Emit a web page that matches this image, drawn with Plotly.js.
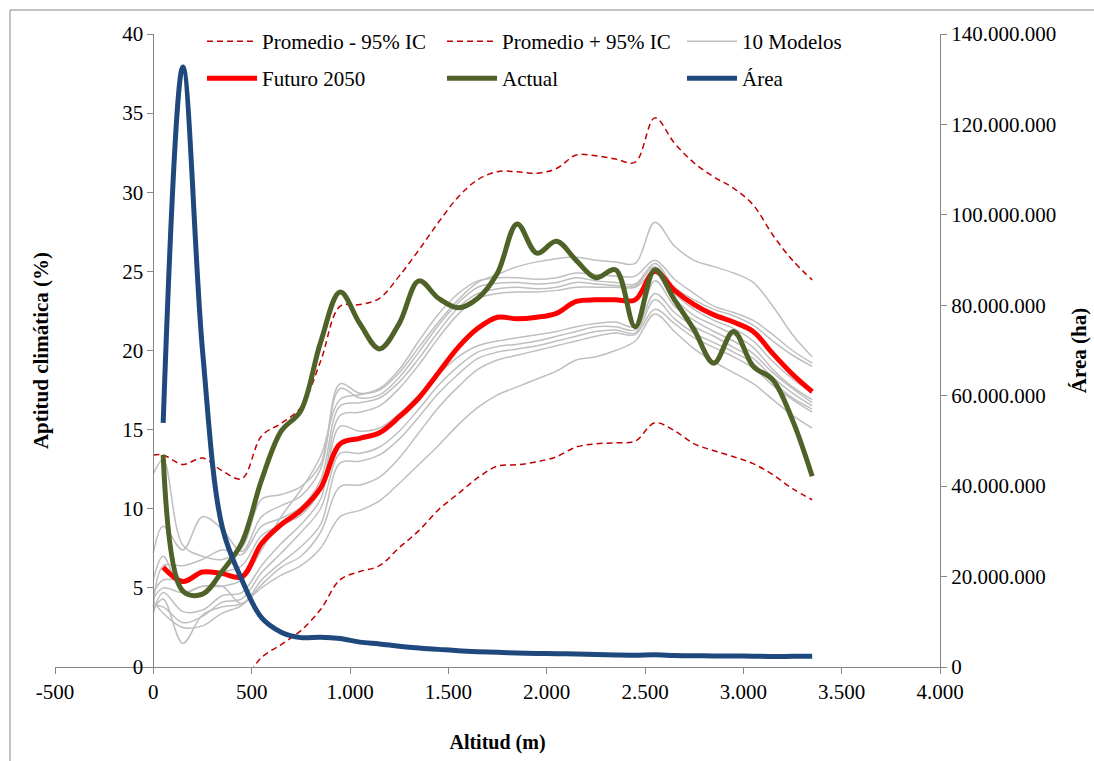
<!DOCTYPE html>
<html>
<head>
<meta charset="utf-8">
<script src="https://cdn.plot.ly/plotly-3.0.1.min.js"></script>
<style>
html,body{margin:0;padding:0;background:#fff;}
#chart{width:1094px;height:761px;}
</style>
</head>
<body>
<div id="chart"></div>
<script>
// ---- Data ----
const altitud = [50,150,250,350,450,550,650,750,850,950,1050,1150,1250,1350,1450,1550,1650,1750,1850,1950,2050,2150,2250,2350,2450,2550,2650,2750,2850,2950,3050,3150,3250,3350];
const altitudModelos = [0,50,150,250,350,450,550,650,750,850,950,1050,1150,1250,1350,1450,1550,1650,1750,1850,1950,2050,2150,2250,2350,2450,2550,2650,2750,2850,2950,3050,3150,3250,3350];

const futuro2050 = [6.3,5.4,6.0,5.9,5.7,7.8,9.0,9.9,11.3,14.1,14.45,14.8,15.8,17.0,18.6,20.2,21.4,22.1,22.0,22.1,22.35,23.1,23.2,23.2,23.2,25.0,23.8,22.9,22.25,21.8,21.2,19.8,18.5,17.4];
const actual = [13.4,4.8,4.6,6.05,7.85,11.8,14.9,16.2,20.5,23.7,21.7,20.1,21.7,24.4,23.3,22.7,23.3,24.9,28.0,26.15,26.9,25.7,24.6,25.1,21.5,25.1,23.2,21.3,19.2,21.2,19.0,18.15,15.6,12.05];
const areaHa = [54000000,132700000,70000000,31000000,19300000,10900000,7700000,6500000,6600000,6300000,5500000,5100000,4600000,4200000,3900000,3600000,3400000,3250000,3100000,3000000,2950000,2850000,2750000,2650000,2600000,2700000,2550000,2500000,2450000,2450000,2400000,2300000,2350000,2400000];

const promedioMenos = [-2.5,-2.5,-2.5,-2.5,-2.0,-1.0,0.6,1.42,2.3,3.63,5.52,6.03,6.4,7.54,8.62,9.94,10.95,11.96,12.7,12.78,12.97,13.29,13.9,14.1,14.17,14.27,15.43,14.93,14.1,13.67,13.29,12.85,12.15,11.27,10.57];
const promedioMas = [13.4,13.4,12.8,13.2,12.4,11.9,14.6,15.4,16.4,19.3,22.8,22.9,23.3,24.7,26.35,28.1,29.7,30.8,31.3,31.3,31.2,31.5,32.35,32.3,32.1,31.9,34.7,33.1,31.85,30.97,30.26,29.2,27.3,25.7,24.46];

const modelo1 = [4.3,5.0,4.7,5.1,5.1,5.5,7.4,9.5,11.2,13.3,16.9,17.2,17.5,18.6,20.2,21.8,23.2,24.3,24.8,25.3,25.6,25.8,25.9,25.7,25.6,25.5,28.1,26.6,25.7,25.3,24.9,24.3,22.8,21.0,19.6];
const modelo2 = [12.2,13.1,7.7,7.0,6.8,7.5,10.6,10.9,11.4,12.8,17.9,17.3,17.6,18.8,20.6,22.3,23.6,24.4,24.6,24.6,24.5,24.6,24.9,24.8,24.7,24.7,25.7,24.5,23.6,22.8,22.4,21.9,21.0,20.0,19.2];
const modelo3 = [7.2,8.9,7.4,9.5,8.7,7.3,9.5,10.2,10.8,12.5,17.6,17.0,17.2,18.3,19.9,21.6,23.0,24.0,24.25,24.3,24.2,24.3,24.6,24.4,24.3,24.2,25.5,24.0,23.2,22.6,22.2,21.6,20.6,19.7,19.0];
const modelo4 = [3.8,6.4,6.4,6.8,7.4,7.1,8.9,9.4,10.1,11.8,16.5,16.7,17.0,18.0,19.5,21.2,22.7,23.6,23.9,24.0,23.9,24.0,24.3,24.2,24.1,24.1,25.3,23.6,22.6,21.9,21.4,20.6,19.3,18.2,17.3];
const modelo5 = [4.7,5.5,5.5,6.0,6.0,6.4,8.3,9.0,9.6,11.2,15.9,16.1,16.5,17.6,19.1,20.8,22.3,23.3,23.6,23.7,23.7,23.8,24.0,24.0,24.0,24.0,24.9,23.3,22.2,21.6,21.0,20.2,18.8,17.7,16.9];
const modelo6 = [3.4,4.7,3.5,3.6,4.5,4.7,6.4,7.8,9.0,10.6,15.2,14.9,15.1,16.0,17.2,18.5,19.6,20.3,20.6,20.8,21.0,21.2,21.5,21.7,21.8,21.5,24.4,22.8,21.9,21.2,20.6,19.8,18.6,17.6,16.7];
const modelo7 = [3.9,3.8,2.8,3.2,4.1,4.3,5.95,7.2,8.5,10.0,13.5,13.5,13.9,14.9,16.3,17.8,19.0,19.9,20.25,20.4,20.6,20.9,21.2,21.5,21.5,21.3,23.6,22.4,21.5,20.9,20.2,19.5,18.3,17.3,16.5];
const modelo8 = [5.5,7.0,4.7,5.1,5.1,4.0,5.5,6.6,7.6,9.0,12.9,13.0,13.4,14.4,15.8,17.3,18.5,19.5,19.9,20.1,20.3,20.6,20.9,21.2,21.3,21.1,23.2,22.0,21.1,20.5,19.9,19.2,18.0,17.0,16.3];
const modelo9 = [4.2,3.4,2.5,2.6,3.4,3.9,5.2,6.3,7.0,8.5,11.4,11.5,12.0,13.2,14.8,16.4,17.7,18.8,19.4,19.7,20.0,20.3,20.6,20.9,21.1,21.0,22.6,21.7,20.8,20.2,19.6,18.9,17.8,16.9,16.1];
const modelo10 = [3.6,4.3,1.5,3.3,3.8,4.0,5.0,5.8,6.4,7.5,9.5,9.9,10.5,11.6,12.8,14.0,15.3,16.4,17.2,17.7,18.2,18.7,19.4,19.6,20.0,20.6,22.3,21.2,20.1,19.3,18.6,17.9,16.9,15.9,15.1];
const modelos = [modelo1,modelo2,modelo3,modelo4,modelo5,modelo6,modelo7,modelo8,modelo9,modelo10];

const xTickVals = [-500,0,500,1000,1500,2000,2500,3000,3500,4000];
const xTickText = ['-500','0','500','1.000','1.500','2.000','2.500','3.000','3.500','4.000'];

// ---- Styling ----
const FONT = 'Liberation Serif, serif';
const AXIS = '#868686';
const traces = [];

modelos.forEach(function (m, i) {
  traces.push({
    x: altitudModelos, y: m, type: 'scatter', mode: 'lines',
    name: '10 Modelos', showlegend: i === 0, legendrank: 3, legend: 'legend',
    line: {color: '#bfbfbf', width: 1.5, shape: 'spline'},
    hoverinfo: 'skip'
  });
});
traces.push({
  x: altitudModelos, y: promedioMenos, type: 'scatter', mode: 'lines',
  name: 'Promedio - 95% IC', legendrank: 1, legend: 'legend',
  line: {color: '#c00000', width: 1.5, dash: '6px,4px', shape: 'spline'}
});
traces.push({
  x: altitudModelos, y: promedioMas, type: 'scatter', mode: 'lines',
  name: 'Promedio + 95% IC', legendrank: 2, legend: 'legend',
  line: {color: '#c00000', width: 1.5, dash: '6px,4px', shape: 'spline'}
});
traces.push({
  x: altitud, y: futuro2050, type: 'scatter', mode: 'lines',
  name: 'Futuro 2050', legendrank: 1, legend: 'legend2',
  line: {color: '#ff0000', width: 5, shape: 'spline'}
});
traces.push({
  x: altitud, y: actual, type: 'scatter', mode: 'lines',
  name: 'Actual', legendrank: 2, legend: 'legend2',
  line: {color: '#4f6228', width: 5, shape: 'spline'}
});
traces.push({
  x: altitud, y: areaHa, type: 'scatter', mode: 'lines', yaxis: 'y2',
  name: 'Área', legendrank: 3, legend: 'legend2',
  line: {color: '#1f497d', width: 5, shape: 'spline'}
});

const W = 1094, H = 761;
const mL = 55, mR = 154, mT = 34, mB = 94;
const pw = W - mL - mR, ph = H - mT - mB;
const px2x = function (p) { return (p - mL) / pw; };
const py2y = function (p) { return 1 - (p - mT) / ph; };

const legendBase = {
  orientation: 'h', xanchor: 'left', yanchor: 'top',
  itemwidth: 50,
  entrywidth: 175, entrywidthmode: 'pixels',
  bgcolor: 'rgba(0,0,0,0)', borderwidth: 0,
  font: {family: FONT, size: 21, color: '#000'},
  traceorder: 'normal'
};

const layout = {
  width: W, height: H,
  margin: {l: mL, r: mR, t: mT, b: mB, autoexpand: false},
  paper_bgcolor: '#fff', plot_bgcolor: 'rgba(0,0,0,0)',
  separators: ',.',
  font: {family: FONT, size: 21, color: '#000'},
  showlegend: true,
  legend: Object.assign({}, legendBase, {x: px2x(202), y: py2y(21)}),
  legend2: Object.assign({}, legendBase, {x: px2x(202), y: py2y(58)}),
  xaxis: {
    range: [-500, 4000], tickvals: xTickVals, ticktext: xTickText,
    showgrid: false, zeroline: false, showline: true, linecolor: AXIS, linewidth: 1,
    ticks: 'outside', ticklen: 6, tickcolor: AXIS,
    tickfont: {family: FONT, size: 21, color: '#000'},
    title: {text: '<b>Altitud (m)</b>', font: {family: FONT, size: 20, color: '#000'}, standoff: 31}
  },
  yaxis: {
    range: [0, 40], dtick: 5, anchor: 'free', position: 500 / 4500,
    showgrid: false, zeroline: false, showline: true, linecolor: AXIS, linewidth: 1,
    ticks: 'outside', ticklen: 6, tickcolor: AXIS,
    tickfont: {family: FONT, size: 21, color: '#000'},
    title: {text: '<b>Aptitud climática (%)</b>', font: {family: FONT, size: 21, color: '#000'}, standoff: 66}
  },
  yaxis2: {
    range: [0, 140000000], dtick: 20000000, tickformat: ',d',
    overlaying: 'y', side: 'right', anchor: 'x',
    showgrid: false, zeroline: false, showline: true, linecolor: AXIS, linewidth: 1,
    ticks: 'outside', ticklen: 6, tickcolor: AXIS,
    tickfont: {family: FONT, size: 21, color: '#000'},
    title: {text: '<b>Área (ha)</b>', font: {family: FONT, size: 21, color: '#000'}, standoff: 16}
  },
  shapes: [{
    type: 'rect', xref: 'paper', yref: 'paper',
    x0: px2x(10), x1: px2x(1110), y0: py2y(780), y1: py2y(10),
    line: {color: AXIS, width: 1}, fillcolor: 'rgba(0,0,0,0)', layer: 'below'
  }]
};

Plotly.newPlot('chart', traces, layout, {displayModeBar: false, staticPlot: true});
</script>
</body>
</html>
